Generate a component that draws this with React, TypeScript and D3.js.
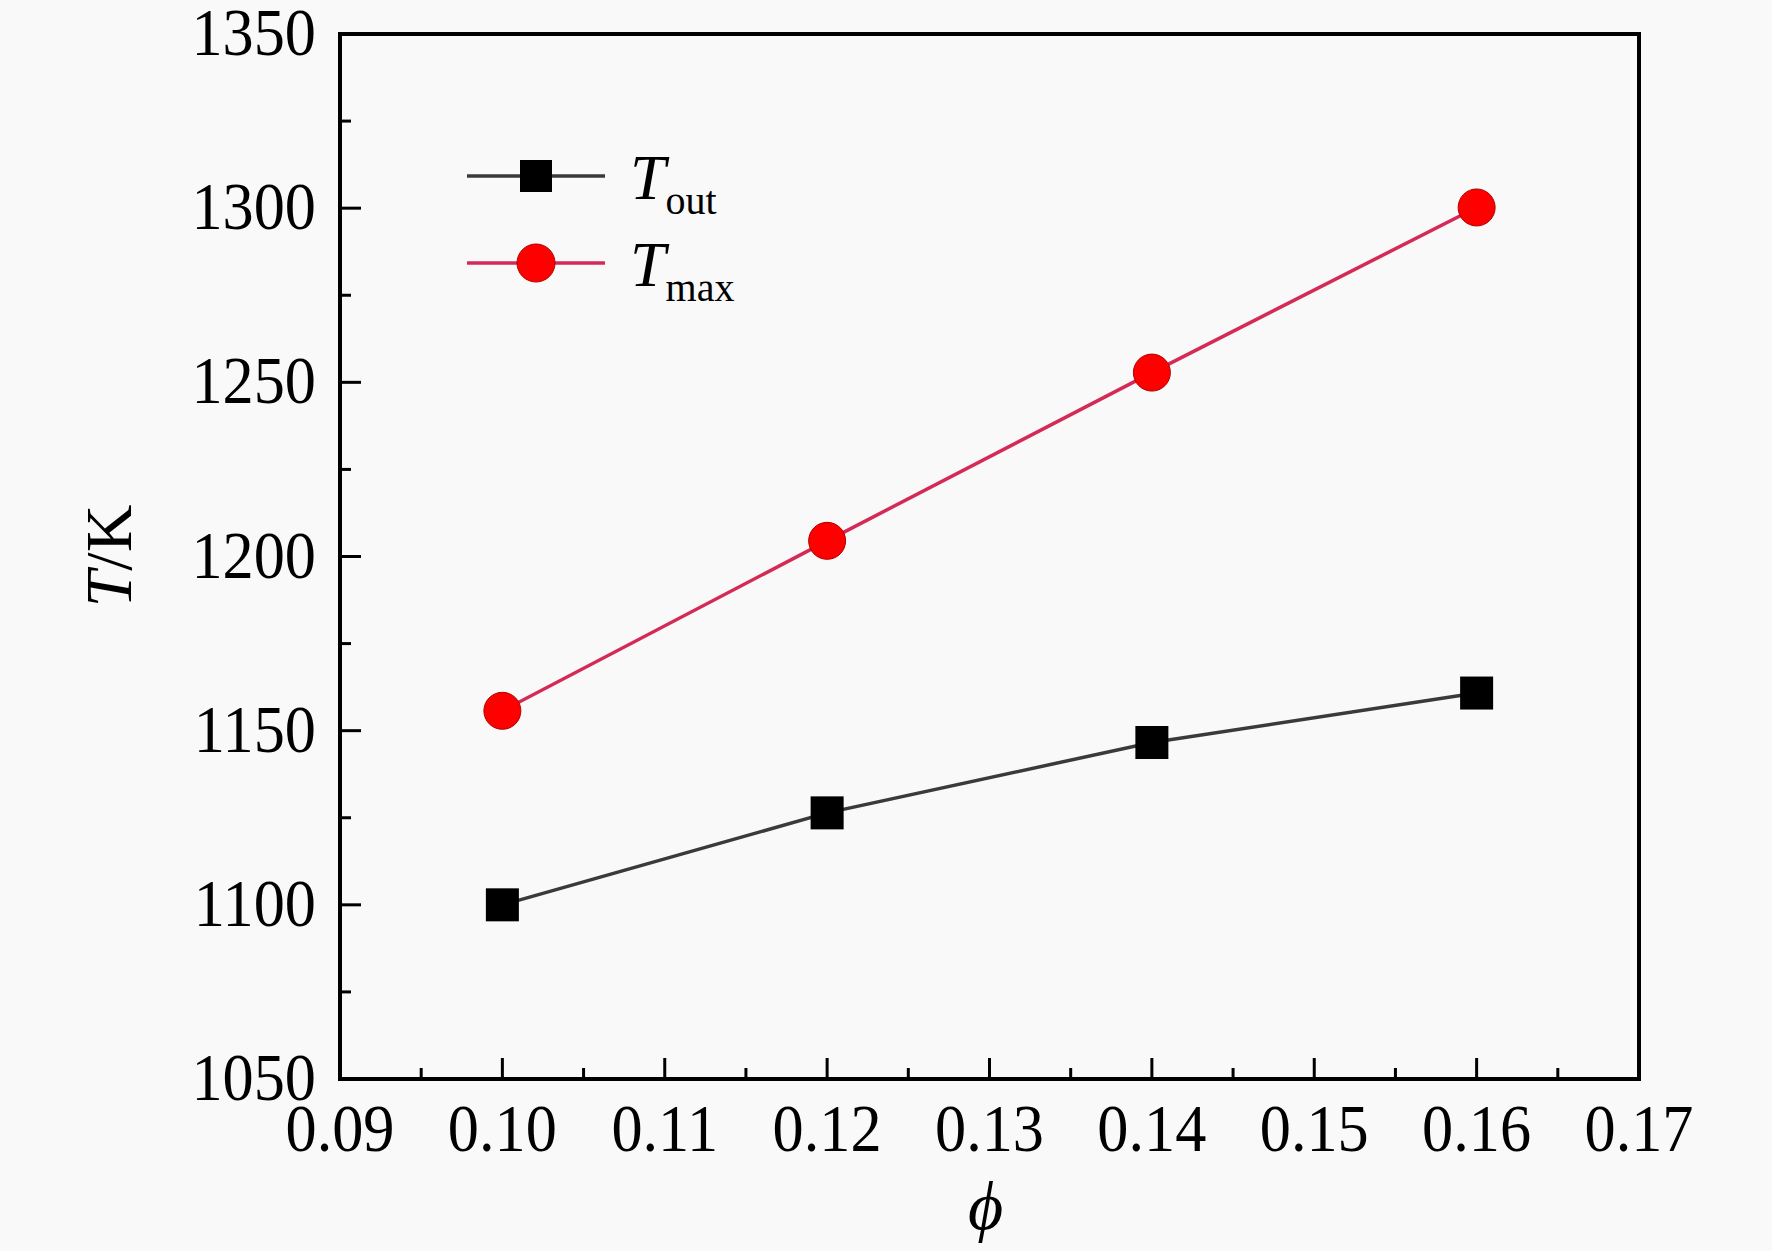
import React from "react";
import * as d3 from "d3";

const phi = [0.1, 0.12, 0.14, 0.16];
const tOut = [1100, 1126.4, 1146.6, 1160.8];
const tMax = [1155.7, 1204.5, 1252.8, 1300.2];
const xTickLabels = ["0.09", "0.10", "0.11", "0.12", "0.13", "0.14", "0.15", "0.16", "0.17"];
const yTickLabels = ["1050", "1100", "1150", "1200", "1250", "1300", "1350"];
const seriesNames = ["out", "max"];

const W = 1772;
const H = 1251;
const L = 340, R = 1639, T = 34, B = 1079;
const FONT = "'Liberation Serif', 'Times New Roman', serif";

export default function App() {
  const x = d3.scaleLinear().domain([0.09, 0.17]).range([L, R]);
  const y = d3.scaleLinear().domain([1050, 1350]).range([B, T]);
  const xMinor = d3.range(0, 17).map((i) => 0.09 + i * 0.005).filter((_, i) => i % 2 === 1);
  const yMinor = d3.range(0, 13).map((i) => 1050 + i * 25).filter((_, i) => i % 2 === 1);
  const line = d3.line<number>().x((_, i) => x(phi[i])).y((d) => y(d));
  const lx1 = 467, lx2 = 605, lxm = 536;
  const ly = [176, 263];

  return (
    <svg width={W} height={H} style={{ position: "absolute", left: 0, top: 0 }} fontFamily={FONT}>
      <rect x={0} y={0} width={W} height={H} fill="#f9f9f9" />
      {/* minor ticks */}
      {xMinor.map((v, i) => (
        <line key={"xm" + i} x1={x(v)} x2={x(v)} y1={B} y2={B - 11} stroke="#000" strokeWidth={3} />
      ))}
      {yMinor.map((v, i) => (
        <line key={"ym" + i} x1={L} x2={L + 11} y1={y(v)} y2={y(v)} stroke="#000" strokeWidth={3} />
      ))}
      {/* major ticks and labels */}
      {xTickLabels.map((s, i) => {
        const v = +s;
        return (
          <g key={"xt" + i}>
            <line x1={x(v)} x2={x(v)} y1={B} y2={B - 21} stroke="#000" strokeWidth={3} />
            <text
              transform={`translate(${x(v)},${B + 72}) scale(0.93,1)`}
              textAnchor="middle"
              fontSize={67}
              fill="#000"
            >
              {s}
            </text>
          </g>
        );
      })}
      {yTickLabels.map((s, i) => {
        const v = +s;
        return (
          <g key={"yt" + i}>
            <line x1={L} x2={L + 21} y1={y(v)} y2={y(v)} stroke="#000" strokeWidth={3} />
            <text
              transform={`translate(${L - 24},${y(v) + 21}) scale(0.93,1)`}
              textAnchor="end"
              fontSize={67}
              fill="#000"
            >
              {s}
            </text>
          </g>
        );
      })}
      {/* frame */}
      <rect x={L} y={T} width={R - L} height={B - T} fill="none" stroke="#000" strokeWidth={4} />
      {/* series lines */}
      <path d={line(tOut) || ""} fill="none" stroke="#3a3a3a" strokeWidth={3.5} />
      <path d={line(tMax) || ""} fill="none" stroke="#d42a55" strokeWidth={3.5} />
      {tOut.map((v, i) => (
        <rect key={"so" + i} x={x(phi[i]) - 16.5} y={y(v) - 16.5} width={33} height={33} fill="#000" />
      ))}
      {tMax.map((v, i) => (
        <circle key={"cm" + i} cx={x(phi[i])} cy={y(v)} r={18.5} fill="#ff0000" stroke="#b00000" strokeWidth={1} />
      ))}
      {/* legend */}
      <line x1={lx1} x2={lx2} y1={ly[0]} y2={ly[0]} stroke="#3a3a3a" strokeWidth={3.5} />
      <rect x={lxm - 16} y={ly[0] - 16} width={32} height={32} fill="#000" />
      <line x1={lx1} x2={lx2} y1={ly[1]} y2={ly[1]} stroke="#d42a55" strokeWidth={3.5} />
      <circle cx={lxm} cy={ly[1]} r={19} fill="#ff0000" stroke="#b00000" strokeWidth={1} />
      {seriesNames.map((n, i) => (
        <text key={"lg" + i} x={630} y={ly[i] + 23} fontSize={64} fill="#000">
          <tspan fontStyle="italic">T</tspan>
          <tspan fontSize={40} dy={15}>{n}</tspan>
        </text>
      ))}
      {/* axis titles */}
      <text x={(L + R) / 2 - 4} y={1229} textAnchor="middle" fontSize={68} fontStyle="italic" fill="#000">
        ϕ
      </text>
      <text transform={`translate(131,556) rotate(-90)`} textAnchor="middle" fontSize={66} fill="#000">
        <tspan fontStyle="italic">T</tspan>
        <tspan>/K</tspan>
      </text>
    </svg>
  );
}
